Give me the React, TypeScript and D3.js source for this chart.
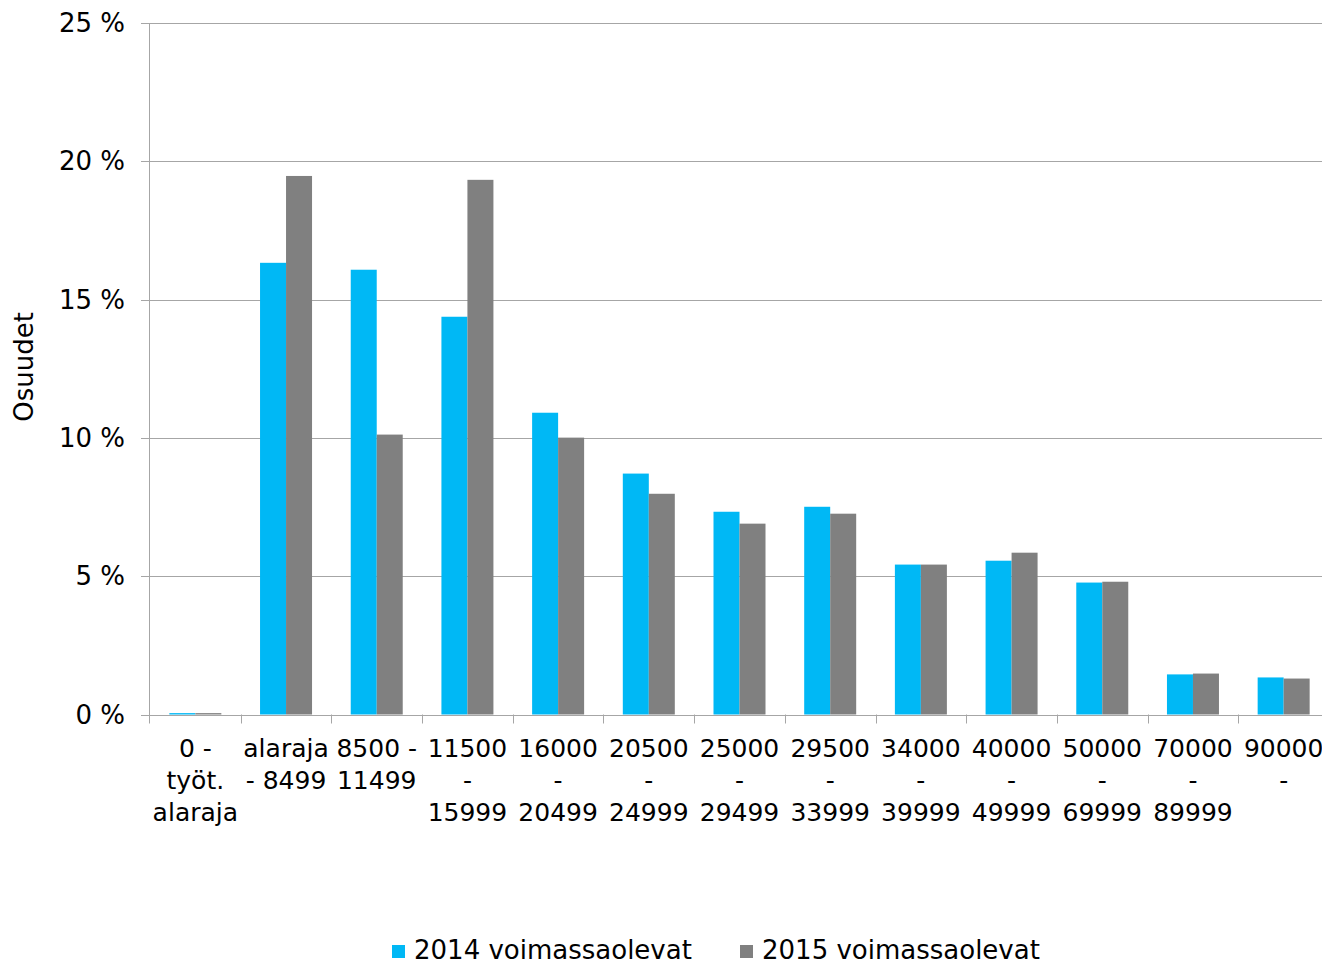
import React from "react";
import * as d3 from "d3";

const categories: string[][] = [
  ["0 -", "työt.", "alaraja"],
  ["alaraja", "- 8499"],
  ["8500 -", "11499"],
  ["11500", "-", "15999"],
  ["16000", "-", "20499"],
  ["20500", "-", "24999"],
  ["25000", "-", "29499"],
  ["29500", "-", "33999"],
  ["34000", "-", "39999"],
  ["40000", "-", "49999"],
  ["50000", "-", "69999"],
  ["70000", "-", "89999"],
  ["90000", "-"],
];

const values2014: number[] = [0.05, 16.33, 16.08, 14.38, 10.91, 8.71, 7.33, 7.51, 5.42, 5.56, 4.77, 1.45, 1.34];
const values2015: number[] = [0.05, 19.47, 10.12, 19.33, 10.01, 7.98, 6.9, 7.26, 5.42, 5.85, 4.8, 1.48, 1.3];

const yTicks: number[] = [0, 5, 10, 15, 20, 25];
const seriesNames: string[] = ["2014 voimassaolevat", "2015 voimassaolevat"];
const seriesColors: string[] = ["#00B8F5", "#808080"];

const W = 1322;
const H = 966;
const left = 150;
const plotRight = 1329;
const top = 23;
const bottom = 714.5;
const font = "'DejaVu Sans', Verdana, sans-serif";
const fs = 25;
const barW = 26;

export default function App() {
  const x = d3
    .scaleBand<number>()
    .domain(categories.map((_, i) => i))
    .range([left, plotRight])
    .padding(0);
  const y = d3.scaleLinear().domain([0, 25]).range([bottom, top]);
  const bw = x.bandwidth();

  return (
    <svg
      width={W}
      height={H}
      style={{ position: "absolute", left: 0, top: 0, background: "#fff" }}
      viewBox={`0 0 ${W} ${H}`}
    >
      {yTicks.map((t) => (
        <line
          key={"g" + t}
          x1={left - 9}
          x2={plotRight}
          y1={Math.round(y(t)) + 0.5}
          y2={Math.round(y(t)) + 0.5}
          stroke="#a6a6a6"
          strokeWidth={1}
        />
      ))}
      <line x1={left - 0.5} x2={left - 0.5} y1={top} y2={bottom + 9} stroke="#a6a6a6" strokeWidth={1} />
      {categories.map((_, i) =>
        i === 0 ? null : (
          <line
            key={"xt" + i}
            x1={Math.round(x(i)!) + 0.5}
            x2={Math.round(x(i)!) + 0.5}
            y1={bottom}
            y2={bottom + 9}
            stroke="#a6a6a6"
            strokeWidth={1}
          />
        )
      )}
      {categories.map((_, i) => {
        const c = x(i)! + bw / 2;
        const v1 = values2014[i];
        const v2 = values2015[i];
        return (
          <g key={"b" + i}>
            <rect x={c - barW} y={y(v1)} width={barW} height={bottom - y(v1)} fill={seriesColors[0]} />
            <rect x={c} y={y(v2)} width={barW} height={bottom - y(v2)} fill={seriesColors[1]} />
          </g>
        );
      })}
      {yTicks.map((t) => (
        <text
          key={"yl" + t}
          x={125}
          y={y(t)}
          dy="0.35em"
          textAnchor="end"
          fontFamily={font}
          fontSize={26}
          fill="#000"
        >
          {t} %
        </text>
      ))}
      {categories.map((lines, i) => (
        <text
          key={"xl" + i}
          x={x(i)! + bw / 2}
          y={757}
          textAnchor="middle"
          fontFamily={font}
          fontSize={fs}
          fill="#000"
        >
          {lines.map((ln, j) => (
            <tspan key={j} x={x(i)! + bw / 2} y={757 + j * 32}>
              {ln}
            </tspan>
          ))}
        </text>
      ))}
      <text
        transform={`translate(33,367) rotate(-90)`}
        textAnchor="middle"
        fontFamily={font}
        fontSize={26}
        fill="#000"
      >
        Osuudet
      </text>
      {seriesNames.map((n, i) => {
        const lx = i === 0 ? 392 : 740;
        return (
          <g key={"lg" + i}>
            <rect x={lx} y={945} width={13} height={13} fill={seriesColors[i]} />
            <text x={lx + 22} y={959} fontFamily={font} fontSize={26} fill="#000">
              {n}
            </text>
          </g>
        );
      })}
    </svg>
  );
}
